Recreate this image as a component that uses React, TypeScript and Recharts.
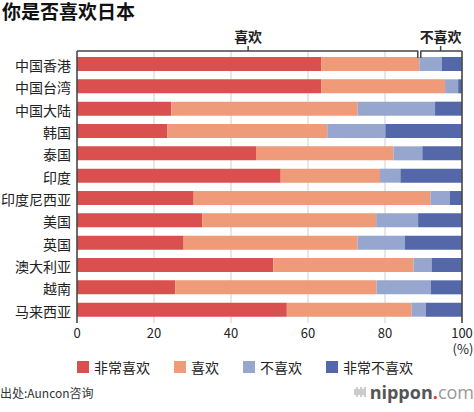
import React from "react";
import { Bar, BarChart, CartesianGrid, Legend, ReferenceLine, XAxis, YAxis } from "recharts";

const countries = ["中国香港", "中国台湾", "中国大陆", "韩国", "泰国", "印度", "印度尼西亚", "美国", "英国", "澳大利亚", "越南", "马来西亚"];
const veryLike = [63.4, 63.4, 24.5, 23.5, 46.5, 52.9, 30.3, 32.5, 27.7, 51.0, 25.5, 54.5];
const like = [25.5, 32.2, 48.4, 41.5, 35.7, 25.8, 61.5, 45.2, 45.2, 36.4, 52.3, 32.4];
const dislike = [5.9, 3.4, 20.1, 15.1, 7.5, 5.3, 5.0, 10.9, 12.3, 4.7, 14.1, 3.7];
const veryDislike = [5.2, 1.0, 7.0, 19.9, 10.3, 16.0, 3.2, 11.4, 14.8, 7.9, 8.1, 9.4];

const seriesNames = ["非常喜欢", "喜欢", "不喜欢", "非常不喜欢"];
const seriesKeys = ["veryLike", "like", "dislike", "veryDislike"];
const colors = ["#d9504f", "#ef9a78", "#97a6cf", "#5367a9"];
const xTicks = [0, 20, 40, 60, 80, 100];
const bracketLabels = ["喜欢", "不喜欢"];

const FONT = '"Noto Sans CJK SC", "Noto Sans", sans-serif';

const data = countries.map((name, i) => ({
  name,
  veryLike: veryLike[i],
  like: like[i],
  dislike: dislike[i],
  veryDislike: veryDislike[i],
}));

// brackets above the chart follow the first row's like / dislike split
const split = veryLike[0] + like[0];
const topTicks = [0, split / 2, split, (split + 100) / 2, 100];

function TopTick(props: any) {
  const { x, y, index } = props;
  if (index === 1 || index === 3) {
    return (
      <g>
        <line x1={x} x2={x} y1={y - 5} y2={y} stroke="#444" strokeWidth={1.5} />
        <text x={x} y={y - 9} textAnchor="middle" fontSize={14} fontWeight="bold" fill="#222" fontFamily={FONT}>
          {bracketLabels[index === 1 ? 0 : 1]}
        </text>
      </g>
    );
  }
  if (index === 2) {
    return (
      <g>
        <line x1={x - 1} x2={x + 1} y1={y} y2={y} stroke="#fff" strokeWidth={3} />
        <line x1={x - 1.5} x2={x - 1.5} y1={y} y2={y + 7} stroke="#444" strokeWidth={1.5} />
        <line x1={x + 1.5} x2={x + 1.5} y1={y} y2={y + 7} stroke="#444" strokeWidth={1.5} />
      </g>
    );
  }
  return <g />;
}

function BottomTick(props: any) {
  const { x, y, payload } = props;
  return (
    <g>
      <text x={x} y={y + 15} textAnchor="middle" fontSize={13} fill="#222" fontFamily={FONT}>
        {payload.value}
      </text>
      {payload.value === 100 && (
        <text x={x + 1} y={y + 31} textAnchor="middle" fontSize={13} fill="#222" fontFamily={FONT}>
          (%)
        </text>
      )}
    </g>
  );
}

function LegendContent() {
  return (
    <div style={{ display: "flex", alignItems: "center", height: 20, paddingLeft: 77, fontFamily: FONT }}>
      {seriesNames.map((n, i) => (
        <div key={n} style={{ display: "flex", alignItems: "center", marginRight: 24 }}>
          <span style={{ width: 12, height: 12, background: colors[i], marginRight: 5, display: "inline-block" }} />
          <span style={{ fontSize: 14, color: "#222", lineHeight: "20px" }}>{n}</span>
        </div>
      ))}
    </div>
  );
}

export default function App() {
  return (
    <div style={{ position: "absolute", left: 0, top: 0, width: 474, height: 412, background: "#fff", fontFamily: FONT }}>
      <div style={{ position: "absolute", left: 2, top: 1, fontSize: 19, fontWeight: "bold", lineHeight: "20px", color: "#111" }}>
        你是否喜欢日本
      </div>
      <BarChart width={474} height={412} data={data} layout="vertical" margin={{ top: 0, right: 12, bottom: 35, left: 0 }}>
        <CartesianGrid horizontal={false} stroke="#cfcfcf" />
        <XAxis
          xAxisId="top"
          orientation="top"
          type="number"
          domain={[0, 100]}
          allowDataOverflow
          ticks={topTicks}
          interval={0}
          height={51}
          tickSize={0}
          tickMargin={0}
          tickLine={false}
          axisLine={{ stroke: "#444", strokeWidth: 1.5 }}
          tick={<TopTick />}
        />
        <XAxis
          type="number"
          domain={[0, 100]}
          ticks={xTicks}
          interval={0}
          height={34}
          tickSize={0}
          tickMargin={0}
          tickLine={false}
          axisLine={false}
          tick={<BottomTick />}
        />
        <YAxis
          type="category"
          dataKey="name"
          width={77}
          padding={{ top: 4, bottom: 0 }}
          tickSize={0}
          tickMargin={6}
          tickLine={false}
          axisLine={{ stroke: "#444", strokeWidth: 1.5 }}
          tick={{ fontSize: 14, fill: "#222", fontFamily: FONT }}
          interval={0}
        />
        <ReferenceLine x={100} stroke="#444" strokeWidth={1.5} />
        {seriesKeys.map((k, i) => (
          <Bar key={k} dataKey={k} name={seriesNames[i]} stackId="a" fill={colors[i]} barSize={14} isAnimationActive={false} />
        ))}
        <Bar dataKey="veryLike" xAxisId="top" fill="none" legendType="none" barSize={0} isAnimationActive={false} />
        <Legend verticalAlign="bottom" height={20} content={<LegendContent />} />
      </BarChart>
      <div style={{ position: "absolute", left: 0, top: 385, fontSize: 12, color: "#333", lineHeight: "16px" }}>出处:Auncon咨询</div>
      <div style={{ position: "absolute", right: 0, top: 381, display: "flex", alignItems: "center", lineHeight: "22px" }}>
        <svg width={12} height={12} style={{ marginRight: 4 }}>
          {[1, 3, 5, 7, 9, 11].map((lx, j) => (
            <line key={lx} x1={lx} x2={lx} y1={j % 2 ? 1 : 3} y2={j % 2 ? 11 : 9} stroke="#aaa" strokeWidth={1.2} />
          ))}
        </svg>
        <span style={{ fontFamily: '"Open Sans", sans-serif', fontSize: 18, fontWeight: "bold", color: "#555" }}>nippon</span>
        <span style={{ fontFamily: '"Open Sans", sans-serif', fontSize: 18, fontWeight: "bold", color: "#e03c31" }}>.</span>
        <span style={{ fontFamily: '"Open Sans", sans-serif', fontSize: 18, color: "#999" }}>com</span>
      </div>
    </div>
  );
}
